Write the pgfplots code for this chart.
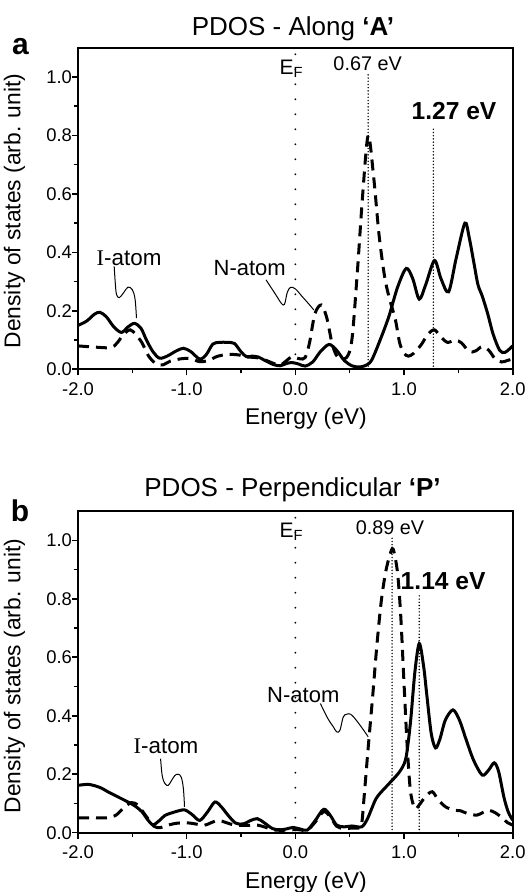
\documentclass[border=0pt]{standalone}
\usepackage{pgfplots}
\pgfplotsset{compat=1.18}
\usepackage{fontspec}
\setmainfont{Liberation Sans}
\newfontfamily\serifI{Liberation Serif}

\pgfplotsset{
  pdos/.style={
    scale only axis, width=217.35pt, height=160.8pt,
    xmin=-2, xmax=2, ymin=0, ymax=1.1,
    xtick={-2,-1,0,1,2}, minor x tick num=1,
    ytick={0,0.2,0.4,0.6,0.8,1.0}, minor y tick num=1,
    tick pos=left, tick align=outside,
    major tick length=3pt, minor tick length=2pt,
    every tick/.style={black, line width=0.8pt},
    axis line style={line width=1pt},
    tick label style={font=\fontsize{9.2}{10}\selectfont},
    yticklabel style={xshift=3.5pt},
    /pgf/number format/assume math mode=true,
    /pgf/number format/fixed, /pgf/number format/fixed zerofill,
    /pgf/number format/precision=1,
    clip=false,
  },
  iat/.style={black, line width=1.5pt, smooth, tension=0.5, no markers},
  nat/.style={black, line width=1.5pt, dash pattern=on 5.5pt off 3.5pt, smooth, tension=0.5, no markers},
  lead/.style={black, line width=0.5pt, smooth, tension=0.6, no markers, forget plot},
}
\tikzset{
  ef/.style={line width=1pt, line cap=round, dash pattern=on 0pt off 7.5pt},
  pk/.style={line width=0.8pt, line cap=round, dash pattern=on 0pt off 1.6pt},
}

\begin{document}
\begin{tikzpicture}
\path[use as bounding box] (0,0) rectangle (264.5pt,446pt);

% panel a
\begin{axis}[pdos, at={(39pt,261.35pt)}, anchor=south west]
  % I-atom
  \addplot[iat] coordinates {
    (-2.0,0.150) (-1.92,0.165) (-1.85,0.188) (-1.80,0.195) (-1.74,0.180)
    (-1.67,0.145) (-1.60,0.126) (-1.54,0.145) (-1.48,0.157) (-1.42,0.140)
    (-1.37,0.100) (-1.31,0.060) (-1.25,0.038) (-1.18,0.045) (-1.10,0.062)
    (-1.03,0.072) (-0.96,0.060) (-0.88,0.035) (-0.82,0.050) (-0.76,0.086)
    (-0.70,0.092) (-0.62,0.092) (-0.56,0.088) (-0.50,0.060) (-0.45,0.043)
    (-0.40,0.045) (-0.34,0.042) (-0.28,0.030) (-0.20,0.016) (-0.14,0.012)
    (-0.08,0.020) (-0.03,0.023) (0.03,0.018) (0.09,0.011) (0.16,0.025)
    (0.23,0.060) (0.31,0.085) (0.38,0.065) (0.45,0.030) (0.52,0.012)
    (0.58,0.008) (0.64,0.012) (0.70,0.030) (0.78,0.100) (0.86,0.180)
    (0.94,0.280) (1.02,0.345) (1.08,0.310) (1.14,0.240) (1.20,0.290)
    (1.28,0.372) (1.34,0.310) (1.41,0.265) (1.48,0.380) (1.56,0.500)
    (1.60,0.450) (1.64,0.370) (1.68,0.290) (1.72,0.250) (1.77,0.190)
    (1.82,0.120) (1.88,0.065) (1.93,0.058) (2.0,0.080)};
  % N-atom
  \addplot[nat] coordinates {
    (-2.0,0.080) (-1.85,0.076) (-1.70,0.074) (-1.64,0.090) (-1.58,0.120)
    (-1.52,0.135) (-1.47,0.120) (-1.41,0.090) (-1.35,0.045) (-1.28,0.018)
    (-1.22,0.015) (-1.15,0.028) (-1.05,0.036) (-0.97,0.037) (-0.88,0.026)
    (-0.80,0.030) (-0.72,0.044) (-0.62,0.051) (-0.52,0.049) (-0.44,0.042)
    (-0.36,0.040) (-0.28,0.032) (-0.20,0.020) (-0.14,0.014) (-0.08,0.030)
    (-0.03,0.043) (0.04,0.036) (0.09,0.040) (0.13,0.090) (0.18,0.190)
    (0.24,0.220) (0.29,0.175) (0.34,0.085) (0.39,0.042) (0.47,0.040)
    (0.52,0.100) (0.57,0.330) (0.62,0.600) (0.67,0.800) (0.72,0.660)
    (0.77,0.460) (0.82,0.320) (0.86,0.250) (0.92,0.170) (0.96,0.090)
    (1.00,0.055) (1.04,0.045) (1.09,0.055) (1.16,0.085) (1.22,0.120)
    (1.28,0.135) (1.34,0.110) (1.40,0.092) (1.47,0.100) (1.53,0.090)
    (1.60,0.060) (1.66,0.063) (1.72,0.078) (1.78,0.065) (1.84,0.035)
    (1.90,0.025) (1.95,0.030) (2.0,0.035)};
  % leaders
  \addplot[lead] coordinates {(-1.667,0.352) (-1.655,0.285) (-1.645,0.255)
    (-1.62,0.245) (-1.58,0.262) (-1.54,0.281) (-1.50,0.272) (-1.475,0.24) (-1.462,0.175)};
  \addplot[lead] coordinates {(-0.27,0.306) (-0.18,0.255) (-0.13,0.226) (-0.10,0.222)
    (-0.075,0.262) (-0.045,0.28) (0.0,0.275) (0.06,0.25) (0.12,0.225) (0.17,0.203)};
  \draw[ef] (axis cs:0,0) -- (axis cs:0,1.08);
  \draw[pk] (axis cs:0.67,0) -- (axis cs:0.67,1.017);
  \draw[pk] (axis cs:1.27,0) -- (axis cs:1.27,0.824);
  \node[font=\fontsize{10.5}{12}\selectfont] at (axis cs:-0.035,1.027) {E\textsubscript{F}};
  \node[font=\fontsize{9.9}{11}\selectfont] at (axis cs:0.665,1.046) {0.67 eV};
  \node[font=\fontsize{12.3}{14}\selectfont\bfseries] at (axis cs:1.46,0.884) {1.27 eV};
  \node[font=\fontsize{11.2}{13}\selectfont] at (axis cs:-1.53,0.38) {{\serifI I}-atom};
  \node[font=\fontsize{11}{13}\selectfont] at (axis cs:-0.42,0.345) {N-atom};
\end{axis}

% panel b
\begin{axis}[pdos, at={(39pt,29.65pt)}, anchor=south west]
  % I-atom
  \addplot[iat] coordinates {
    (-2.0,0.162) (-1.90,0.165) (-1.80,0.155) (-1.72,0.139) (-1.63,0.122)
    (-1.54,0.105) (-1.47,0.090) (-1.41,0.071) (-1.36,0.045) (-1.31,0.027)
    (-1.25,0.042) (-1.20,0.059) (-1.11,0.071) (-1.02,0.078) (-0.95,0.062)
    (-0.88,0.042) (-0.81,0.070) (-0.74,0.105) (-0.68,0.088) (-0.62,0.060)
    (-0.55,0.033) (-0.48,0.030) (-0.41,0.042) (-0.35,0.048) (-0.29,0.035)
    (-0.21,0.014) (-0.14,0.010) (-0.08,0.013) (-0.02,0.018) (0.05,0.012)
    (0.11,0.009) (0.18,0.040) (0.26,0.080) (0.32,0.060) (0.38,0.026)
    (0.45,0.020) (0.52,0.023) (0.61,0.020) (0.66,0.045) (0.70,0.080)
    (0.74,0.115) (0.78,0.135) (0.83,0.155) (0.88,0.175) (0.93,0.195)
    (0.98,0.220) (1.02,0.260) (1.06,0.380) (1.10,0.550) (1.14,0.647)
    (1.18,0.570) (1.21,0.470) (1.25,0.340) (1.29,0.290) (1.33,0.320)
    (1.38,0.385) (1.45,0.420) (1.51,0.385) (1.57,0.320) (1.64,0.248)
    (1.72,0.197) (1.78,0.215) (1.83,0.239) (1.87,0.210) (1.92,0.120)
    (1.96,0.070) (2.0,0.043)};
  % N-atom
  \addplot[nat] coordinates {
    (-2.0,0.051) (-1.85,0.051) (-1.72,0.051) (-1.65,0.060) (-1.58,0.085)
    (-1.51,0.103) (-1.45,0.095) (-1.40,0.070) (-1.35,0.045) (-1.30,0.022)
    (-1.25,0.017) (-1.18,0.025) (-1.10,0.032) (-1.00,0.034) (-0.92,0.030)
    (-0.84,0.025) (-0.77,0.035) (-0.71,0.042) (-0.64,0.035) (-0.56,0.026)
    (-0.45,0.025) (-0.35,0.026) (-0.27,0.018) (-0.20,0.010) (-0.12,0.008)
    (-0.04,0.010) (0.04,0.010) (0.11,0.008) (0.18,0.035) (0.26,0.072)
    (0.32,0.055) (0.38,0.022) (0.45,0.014) (0.52,0.016) (0.58,0.016)
    (0.61,0.030) (0.63,0.110) (0.67,0.290) (0.71,0.460) (0.75,0.640)
    (0.79,0.790) (0.83,0.890) (0.87,0.950) (0.90,0.970) (0.94,0.890)
    (0.97,0.740) (1.00,0.510) (1.03,0.290) (1.06,0.140) (1.10,0.083)
    (1.14,0.095) (1.20,0.125) (1.26,0.140) (1.31,0.115) (1.38,0.089)
    (1.46,0.077) (1.52,0.075) (1.58,0.066) (1.67,0.060) (1.73,0.070)
    (1.78,0.077) (1.84,0.068) (1.90,0.052) (1.95,0.035) (2.0,0.026)};
  % leaders
  \addplot[lead] coordinates {(-1.24,0.253) (-1.225,0.195) (-1.20,0.168) (-1.17,0.162)
    (-1.14,0.178) (-1.11,0.195) (-1.08,0.20) (-1.05,0.19) (-1.03,0.15) (-1.02,0.088)};
  \addplot[lead] coordinates {(0.23,0.442) (0.30,0.39) (0.35,0.362) (0.38,0.345)
    (0.41,0.35) (0.44,0.395) (0.47,0.405) (0.51,0.405) (0.56,0.385) (0.62,0.355) (0.67,0.328)};
  \draw[ef] (axis cs:0,0) -- (axis cs:0,1.085);
  \draw[pk] (axis cs:0.89,0) -- (axis cs:0.89,1.017);
  \draw[pk] (axis cs:1.14,0) -- (axis cs:1.14,0.812);
  \node[font=\fontsize{10.5}{12}\selectfont] at (axis cs:-0.035,1.029) {E\textsubscript{F}};
  \node[font=\fontsize{9.9}{11}\selectfont] at (axis cs:0.87,1.043) {0.89 eV};
  \node[font=\fontsize{12.3}{14}\selectfont\bfseries] at (axis cs:1.36,0.861) {1.14 eV};
  \node[font=\fontsize{11.2}{13}\selectfont] at (axis cs:-1.19,0.294) {{\serifI I}-atom};
  \node[font=\fontsize{11}{13}\selectfont] at (axis cs:0.073,0.47) {N-atom};
\end{axis}

% titles, panel letters, axis labels
\node[anchor=base, font=\fontsize{13}{15}\selectfont] at (146.5pt,428pt) {PDOS - Along \textbf{‘A’}};
\node[anchor=base, font=\fontsize{13}{15}\selectfont] at (146.25pt,197.65pt) {PDOS - Perpendicular \textbf{‘P’}};
\node[anchor=base, font=\fontsize{15}{17}\selectfont\bfseries] at (10.25pt,418.5pt) {a};
\node[anchor=base, font=\fontsize{15}{17}\selectfont\bfseries] at (10pt,185pt) {b};
\node[anchor=base, font=\fontsize{11.4}{13}\selectfont] at (153pt,233.5pt) {Energy (eV)};
\node[anchor=base, font=\fontsize{11.4}{13}\selectfont] at (153pt,1.8pt) {Energy (eV)};
\node[rotate=90, font=\fontsize{11.4}{13}\selectfont] at (7.25pt,340.5pt) {Density of states (arb. unit)};
\node[rotate=90, font=\fontsize{11.4}{13}\selectfont] at (7.25pt,108pt) {Density of states (arb. unit)};
\end{tikzpicture}
\end{document}
